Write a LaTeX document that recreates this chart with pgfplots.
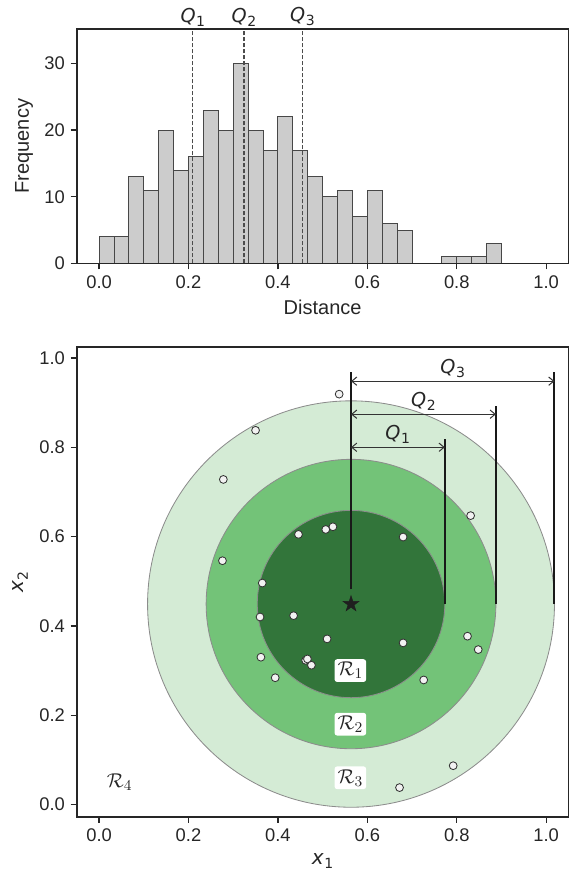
\documentclass[border=0pt]{standalone}
\usepackage{pgfplots}
\pgfplotsset{compat=1.18}
\usepackage{fontspec}
\setmainfont{Liberation Sans}
\newfontfamily\dvs{DejaVu Sans}
\usetikzlibrary{arrows.meta}
\definecolor{gdark}{HTML}{32753A}
\definecolor{gmid}{HTML}{73C378}
\definecolor{glight}{HTML}{D4EBD5}
\definecolor{bargray}{HTML}{CCCCCC}
\definecolor{txt}{HTML}{262626}
\newcommand{\sym}[2]{{\dvs\itshape #1}\kern0.03em\raisebox{-0.4ex}{\dvs\fontsize{8.4}{9}\selectfont #2}}
\pgfdeclareplotmark{fstar}{%
  \pgfpathmoveto{\pgfpointpolar{90}{\pgfplotmarksize}}%
  \pgfpathlineto{\pgfpointpolar{126}{0.382\pgfplotmarksize}}%
  \pgfpathlineto{\pgfpointpolar{162}{\pgfplotmarksize}}%
  \pgfpathlineto{\pgfpointpolar{198}{0.382\pgfplotmarksize}}%
  \pgfpathlineto{\pgfpointpolar{234}{\pgfplotmarksize}}%
  \pgfpathlineto{\pgfpointpolar{270}{0.382\pgfplotmarksize}}%
  \pgfpathlineto{\pgfpointpolar{306}{\pgfplotmarksize}}%
  \pgfpathlineto{\pgfpointpolar{342}{0.382\pgfplotmarksize}}%
  \pgfpathlineto{\pgfpointpolar{18}{\pgfplotmarksize}}%
  \pgfpathlineto{\pgfpointpolar{54}{0.382\pgfplotmarksize}}%
  \pgfpathclose\pgfusepathqfillstroke}
\begin{document}
\begin{tikzpicture}
\pgfplotsset{
  every axis/.append style={scale only axis, width=295pt, xmin=-0.05, xmax=1.05,
    tick align=outside, major tick length=3.6pt,
    xtick pos=left, ytick pos=left,
    tick style={txt, line width=0.8pt},
    axis line style={txt, line width=1.1pt},
    ticklabel style={font=\fontsize{11}{13}\selectfont, text=txt},
    label style={font=\fontsize{12}{14}\selectfont, text=txt},
    /pgf/number format/assume math mode=true,
    xtick={0,0.2,0.4,0.6,0.8,1.0},
    xticklabel={\pgfmathprintnumber[fixed,fixed zerofill,precision=1]{\tick}},
    clip=false, axis on top}
}
% ---------- histogram ----------
\begin{axis}[at={(0,0)}, anchor=south west, height=140.6pt,
  ymin=0, ymax=35.15, ytick={0,10,20,30},
  xlabel={Distance}, ylabel={Frequency}]
\addplot[ybar interval, fill=bargray, draw=black!72, line width=0.5pt] coordinates {
(0.00000,4) (0.03333,4) (0.06667,13) (0.10000,11) (0.13333,20) (0.16667,14)
(0.20000,16) (0.23333,23) (0.26667,20) (0.30000,30) (0.33333,20) (0.36667,17)
(0.40000,22) (0.43333,17) (0.46667,13) (0.50000,10) (0.53333,11) (0.56667,7)
(0.60000,11) (0.63333,6) (0.66667,5) (0.70000,0) (0.73333,0) (0.76667,1)
(0.80000,1) (0.83333,1) (0.86667,3) (0.90000,3)};
\addplot[black!70, line width=0.7pt, dash pattern=on 2.4pt off 1.2pt] coordinates {(0.2097,0) (0.2097,35.15)};
\addplot[black!70, line width=0.7pt, dash pattern=on 2.4pt off 1.2pt] coordinates {(0.324,0) (0.324,35.15)};
\addplot[black!70, line width=0.7pt, dash pattern=on 2.4pt off 1.2pt] coordinates {(0.455,0) (0.455,35.15)};
\node[anchor=south, inner sep=1.5pt, font=\fontsize{11.5}{13}\selectfont, text=txt] at (axis cs:0.2097,35.15) {\sym{Q}{1}};
\node[anchor=south, inner sep=1.5pt, font=\fontsize{11.5}{13}\selectfont, text=txt] at (axis cs:0.324,35.15) {\sym{Q}{2}};
\node[anchor=south, inner sep=1.5pt, font=\fontsize{11.5}{13}\selectfont, text=txt] at (axis cs:0.455,35.15) {\sym{Q}{3}};
\end{axis}
% ---------- disk plot ----------
\begin{axis}[at={(0,-50pt)}, anchor=north west, height=282pt,
  ymin=-0.0278, ymax=1.025, ytick={0,0.2,0.4,0.6,0.8,1.0},
  yticklabel={\pgfmathprintnumber[fixed,fixed zerofill,precision=1]{\tick}},
  xlabel={\sym{x}{1}}, ylabel={\sym{x}{2}}]
\filldraw[fill=glight, draw=black!45, line width=0.5pt] (axis cs:0.5635,0.449) circle[radius=0.455];
\filldraw[fill=gmid, draw=black!45, line width=0.5pt] (axis cs:0.5635,0.449) circle[radius=0.324];
\filldraw[fill=gdark, draw=black!45, line width=0.5pt] (axis cs:0.5635,0.449) circle[radius=0.2097];
% vertical lines
\addplot[black!90, line width=1.2pt] coordinates {(0.5635,0.482) (0.5635,0.969)};
\addplot[black!90, line width=1.2pt] coordinates {(0.7732,0.449) (0.7732,0.819)};
\addplot[black!90, line width=1.2pt] coordinates {(0.8875,0.449) (0.8875,0.892)};
\addplot[black!90, line width=1.2pt] coordinates {(1.0185,0.449) (1.0185,0.969)};
% arrows
\addplot[black!80, line width=0.6pt, {Straight Barb[length=3pt,width=5pt]}-{Straight Barb[length=3pt,width=5pt]}] coordinates {(0.5635,0.800) (0.7732,0.800)};
\addplot[black!80, line width=0.6pt, {Straight Barb[length=3pt,width=5pt]}-{Straight Barb[length=3pt,width=5pt]}] coordinates {(0.5635,0.874) (0.8875,0.874)};
\addplot[black!80, line width=0.6pt, {Straight Barb[length=3pt,width=5pt]}-{Straight Barb[length=3pt,width=5pt]}] coordinates {(0.5635,0.948) (1.0185,0.948)};
\node[anchor=south, inner sep=2pt, font=\fontsize{11.5}{13}\selectfont, text=txt] at (axis cs:0.668,0.800) {\sym{Q}{1}};
\node[anchor=south, inner sep=2pt, font=\fontsize{11.5}{13}\selectfont, text=txt] at (axis cs:0.7255,0.874) {\sym{Q}{2}};
\node[anchor=south, inner sep=2pt, font=\fontsize{11.5}{13}\selectfont, text=txt] at (axis cs:0.791,0.948) {\sym{Q}{3}};
% points
\addplot[only marks, mark=*, mark size=2.35pt, mark options={fill=black!5, draw=black!80, line width=0.5pt}] coordinates {
(0.537,0.919) (0.350,0.838) (0.278,0.728) (0.831,0.647) (0.446,0.605)
(0.507,0.616) (0.523,0.622) (0.680,0.599) (0.276,0.546) (0.365,0.496)
(0.360,0.420) (0.435,0.423) (0.510,0.371) (0.680,0.362) (0.824,0.377)
(0.848,0.347) (0.362,0.330) (0.462,0.323) (0.466,0.326) (0.475,0.312)
(0.394,0.284) (0.726,0.279) (0.792,0.087) (0.672,0.038)};
% star
\addplot[only marks, mark=fstar, mark size=5pt, mark options={fill=black!88, draw=black!88, line width=0.3pt}] coordinates {(0.5635,0.449)};
% region labels
\node[fill=white, rounded corners=1.5pt, inner sep=1.8pt, font=\fontsize{12.5}{14}\selectfont, text=txt] at (axis cs:0.562,0.300) {$\mathcal{R}_1$};
\node[fill=white, rounded corners=1.5pt, inner sep=1.8pt, font=\fontsize{12.5}{14}\selectfont, text=txt] at (axis cs:0.562,0.180) {$\mathcal{R}_2$};
\node[fill=white, rounded corners=1.5pt, inner sep=1.8pt, font=\fontsize{12.5}{14}\selectfont, text=txt] at (axis cs:0.562,0.060) {$\mathcal{R}_3$};
\node[inner sep=1.8pt, font=\fontsize{12.5}{14}\selectfont, text=txt] at (axis cs:0.046,0.051) {$\mathcal{R}_4$};
\end{axis}
\path (-46pt,158pt) rectangle (299pt,-368pt);
\end{tikzpicture}
\end{document}
